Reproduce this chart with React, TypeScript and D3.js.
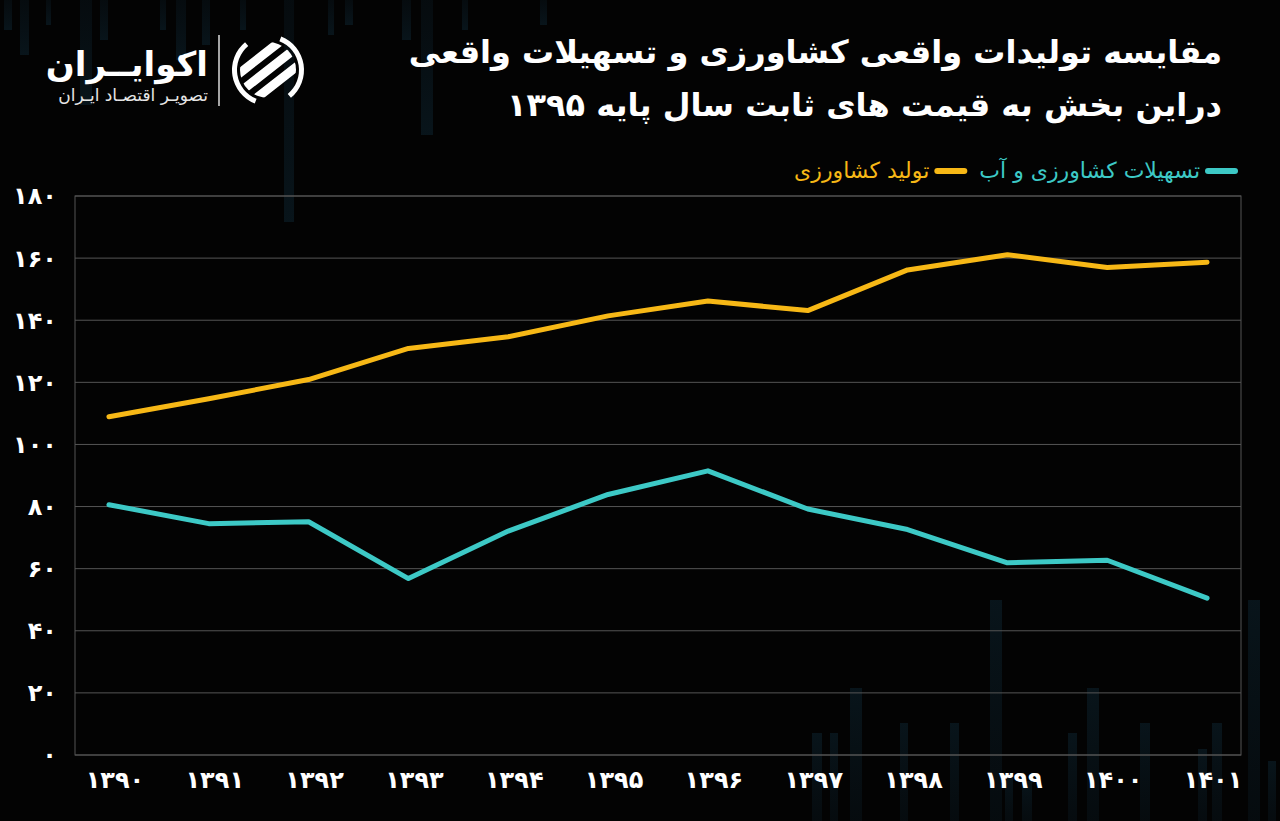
import { useLayoutEffect, useRef, useState } from "react";
import * as d3 from "d3";

// ── Data ──────────────────────────────────────────────────────────────────────

const years = [1390, 1391, 1392, 1393, 1394, 1395, 1396, 1397, 1398, 1399, 1400, 1401];
// تولید کشاورزی
const production = [108.9, 114.7, 120.9, 130.9, 134.7, 141.4, 146.2, 143.1, 156.2, 161.1, 157.0, 158.7];
// تسهیلات کشاورزی و آب
const facilities = [80.6, 74.5, 75.1, 56.8, 72.1, 83.9, 91.5, 79.2, 72.6, 61.9, 62.7, 50.5];
const yTicks = [0, 20, 40, 60, 80, 100, 120, 140, 160, 180];

const titleLines = [
  "مقایسه تولیدات واقعی کشاورزی و تسهیلات واقعی",
  "دراین بخش به قیمت های ثابت سال پایه ۱۳۹۵",
];
const seriesNames = ["تسهیلات کشاورزی و آب", "تولید کشاورزی"];

// decorative background strips: [x, width, length]
const topStrips: [number, number, number][] = [
  [4, 8, 30], [20, 9, 55], [46, 5, 25], [80, 12, 105], [100, 8, 40], [160, 6, 30],
  [176, 10, 60], [202, 8, 45], [240, 6, 30], [284, 10, 222], [328, 6, 35], [345, 8, 25],
  [402, 9, 40], [421, 12, 135], [462, 6, 30], [540, 7, 25],
];
const bottomStrips: [number, number, number][] = [
  [812, 10, 88], [830, 8, 88], [850, 12, 133], [900, 8, 98], [950, 9, 98], [990, 12, 221],
  [1005, 8, 48], [1022, 10, 40], [1068, 9, 88], [1087, 12, 133], [1140, 10, 98],
  [1198, 9, 72], [1212, 10, 98], [1248, 12, 221], [1268, 8, 60],
];

// ── Helpers ───────────────────────────────────────────────────────────────────

const faDigits = "۰۱۲۳۴۵۶۷۸۹";
const fa = (n: number) => String(n).replace(/\d/g, (d) => faDigits[+d]);

const W = 1280;
const H = 821;
const PLOT = { left: 75, right: 1241, top: 196, bottom: 755 };
const YELLOW = "#F7B816";
const TEAL = "#3DC9C6";
const FONT = "'DejaVu Sans', sans-serif";
const LOGO = { cx: 268, cy: 70 };

// ── Component ─────────────────────────────────────────────────────────────────

export default function App() {
  const legendRef = useRef<SVGGElement>(null);
  const [legendW, setLegendW] = useState<number[]>([200, 140]);

  useLayoutEffect(() => {
    if (!legendRef.current) return;
    const ws = Array.from(legendRef.current.querySelectorAll("text")).map((t) =>
      (t as SVGTextElement).getComputedTextLength()
    );
    if (ws.length === 2 && (ws[0] !== legendW[0] || ws[1] !== legendW[1])) setLegendW(ws);
  }, []);

  const x = d3
    .scalePoint<number>()
    .domain(years)
    .range([PLOT.left, PLOT.right])
    .padding(0.34);
  const y = d3.scaleLinear().domain([0, 180]).range([PLOT.bottom, PLOT.top]);

  const line = d3
    .line<number>()
    .x((_, i) => x(years[i])!)
    .y((d) => y(d));

  // legend layout, right to left
  const swW = 33;
  const legendRight = 1238;
  const tealSw = legendRight - swW;
  const tealTextEnd = tealSw - 5;
  const yellowSwRight = tealTextEnd - legendW[0] - 12;
  const yellowTextEnd = yellowSwRight - swW - 5;

  const ring = d3.arc();

  return (
    <div style={{ position: "fixed", inset: 0, background: "#030303" }}>
      <svg width={W} height={H} style={{ display: "block" }} fontFamily={FONT}>
        <defs>
          <linearGradient id="stripTop" x1="0" y1="0" x2="0" y2="1">
            <stop offset="0" stopColor="#0e2431" stopOpacity={0.5} />
            <stop offset="1" stopColor="#0f2a38" stopOpacity={0.9} />
          </linearGradient>
          <linearGradient id="stripBottom" x1="0" y1="0" x2="0" y2="1">
            <stop offset="0" stopColor="#0f2a38" stopOpacity={0.9} />
            <stop offset="1" stopColor="#0e2431" stopOpacity={0.5} />
          </linearGradient>
          <clipPath id="logoClip">
            <circle cx={LOGO.cx} cy={LOGO.cy} r={28} />
          </clipPath>
        </defs>

        <rect width={W} height={H} fill="#030303" />

        {/* background decoration */}
        {topStrips.map(([sx, sw, sl], i) => (
          <rect key={"t" + i} x={sx} y={0} width={sw} height={sl} fill="url(#stripTop)" opacity={0.5} />
        ))}
        {bottomStrips.map(([sx, sw, sl], i) => (
          <rect key={"b" + i} x={sx} y={H - sl} width={sw} height={sl} fill="url(#stripBottom)" opacity={0.5} />
        ))}

        {/* logo */}
        <g>
          <g clipPath="url(#logoClip)">
            {[-15, 0, 15].map((off) => (
              <rect
                key={off}
                x={LOGO.cx - 50}
                y={LOGO.cy + off - 4.5}
                width={100}
                height={9}
                rx={4}
                fill="#fff"
                transform={`rotate(-38 ${LOGO.cx} ${LOGO.cy})`}
              />
            ))}
          </g>
          <path
            d={ring({ innerRadius: 31, outerRadius: 36, startAngle: Math.PI * 1.12, endAngle: Math.PI * 1.78 })!}
            transform={`translate(${LOGO.cx},${LOGO.cy})`}
            fill="#fff"
          />
          <path
            d={ring({ innerRadius: 31, outerRadius: 36, startAngle: Math.PI * 0.12, endAngle: Math.PI * 0.78 })!}
            transform={`translate(${LOGO.cx},${LOGO.cy})`}
            fill="#fff"
          />
          <line x1={219} x2={219} y1={35} y2={106} stroke="#ddd" strokeWidth={1.5} />
          <text x={208} y={76} textAnchor="end" fill="#fff" fontSize={34} fontWeight={700}>
            اکوایــران
          </text>
          <text x={208} y={101} textAnchor="end" fill="#e6e6e6" fontSize={17}>
            تصویـر اقتصـاد ایـران
          </text>
        </g>

        {/* title */}
        {titleLines.map((t, i) => (
          <text key={i} x={1222} y={63 + i * 53} textAnchor="end" fill="#fff" fontSize={32} fontWeight={700}>
            {t}
          </text>
        ))}

        {/* legend */}
        <g ref={legendRef}>
          <line x1={tealSw + 3} x2={legendRight - 3} y1={171} y2={171} stroke={TEAL} strokeWidth={6} strokeLinecap="round" />
          <text x={tealTextEnd} y={178} textAnchor="end" fill={TEAL} fontSize={22}>
            {seriesNames[0]}
          </text>
          <line x1={yellowSwRight - swW + 3} x2={yellowSwRight - 3} y1={171} y2={171} stroke={YELLOW} strokeWidth={6} strokeLinecap="round" />
          <text x={yellowTextEnd} y={178} textAnchor="end" fill={YELLOW} fontSize={22}>
            {seriesNames[1]}
          </text>
        </g>

        {/* grid + frame */}
        {yTicks.map((t) => (
          <line key={t} x1={PLOT.left} x2={PLOT.right} y1={y(t)} y2={y(t)} stroke="#555" strokeWidth={1} />
        ))}
        <rect
          x={PLOT.left}
          y={PLOT.top}
          width={PLOT.right - PLOT.left}
          height={PLOT.bottom - PLOT.top}
          fill="none"
          stroke="#555"
          strokeWidth={1}
        />

        {/* y labels */}
        {yTicks.map((t) => (
          <text key={t} x={57} y={y(t)} dy="0.35em" textAnchor="end" fill="#fff" fontSize={24} fontWeight={700}>
            {fa(t)}
          </text>
        ))}

        {/* x labels */}
        {years.map((yr) => (
          <text key={yr} x={x(yr)! + 6} y={788} textAnchor="middle" fill="#fff" fontSize={24} fontWeight={700}>
            {fa(yr)}
          </text>
        ))}

        {/* series */}
        <path d={line(production)!} fill="none" stroke={YELLOW} strokeWidth={5} strokeLinecap="round" strokeLinejoin="round" />
        <path d={line(facilities)!} fill="none" stroke={TEAL} strokeWidth={5} strokeLinecap="round" strokeLinejoin="round" />
      </svg>
    </div>
  );
}
